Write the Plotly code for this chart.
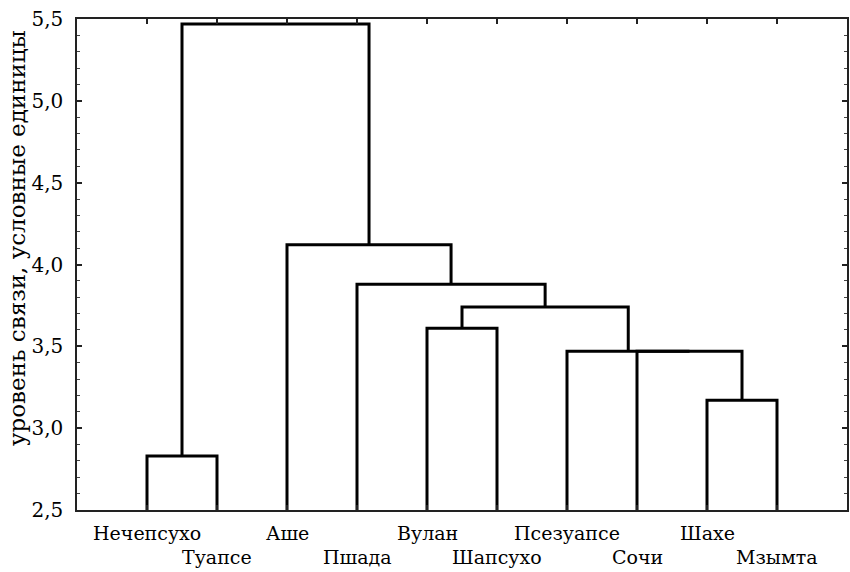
import plotly.graph_objects as go

# Data
leaves = ["Нечепсухо", "Туапсе", "Аше", "Пшада", "Вулан",
          "Шапсухо", "Псезуапсе", "Сочи", "Шахе", "Мзымта"]
# linkage: (left child, right child, height); new clusters get ids 10, 11, ...
merge_left = [0, 8, 7, 6, 4, 14, 3, 2, 10]
merge_right = [1, 9, 11, 12, 5, 13, 15, 16, 17]
merge_height = [2.83, 3.17, 3.47, 3.47, 3.61, 3.74, 3.88, 4.12, 5.47]
y_base = 2.5
y_ticks = [2.5, 3.0, 3.5, 4.0, 4.5, 5.0, 5.5]
y_title = "уровень связи, условные единицы"

# Build dendrogram geometry
pos = {i: (i + 1, y_base) for i in range(len(leaves))}
xs, ys = [], []
for k, (a, b, h) in enumerate(zip(merge_left, merge_right, merge_height)):
    xa, ha = pos[a]
    xb, hb = pos[b]
    xs += [xa, xa, xb, xb, None]
    ys += [ha, h, h, hb, None]
    pos[len(leaves) + k] = ((xa + xb) / 2, h)

leaf_x = [i + 1 for i in range(len(leaves))]

fig = go.Figure()
fig.add_trace(go.Scatter(x=xs, y=ys, mode="lines",
                         line=dict(color="black", width=3),
                         hoverinfo="skip", showlegend=False))

FONT = "DejaVu Serif"
for i, (x, name) in enumerate(zip(leaf_x, leaves)):
    fig.add_annotation(x=x, y=0, xref="x", yref="paper", text=name,
                       showarrow=False, yanchor="middle",
                       yshift=-23 if i % 2 == 0 else -47,
                       font=dict(family=FONT, size=19, color="black"))

# y-axis title (placed slightly above axis centre as in the original)
fig.add_annotation(x=0, y=0.554, xref="paper", yref="paper", text=y_title,
                   textangle=-90, showarrow=False, xanchor="center",
                   yanchor="middle", xshift=-60,
                   font=dict(family=FONT, size=23, color="black"))

fig.update_layout(
    width=850, height=572,
    margin=dict(l=77, r=1, t=19, b=62),
    paper_bgcolor="white", plot_bgcolor="white",
    separators=", ",
    font=dict(family=FONT, size=19, color="black"),
    showlegend=False,
)
fig.update_xaxes(range=[0, 11], tickvals=leaf_x, ticktext=[""] * len(leaves),
                 ticks="inside", ticklen=5, tickwidth=1.5, tickcolor="#222",
                 showline=True, linecolor="#222", linewidth=1.5,
                 mirror="ticks", showgrid=False, zeroline=False)
fig.update_yaxes(range=[2.5, 5.5], tickvals=y_ticks, tickformat=".1f",
                 ticks="inside", ticklen=5, tickwidth=1.5, tickcolor="#222",
                 minor=dict(dtick=0.1, ticks="inside", ticklen=3,
                            tickwidth=1, tickcolor="#444"),
                 showline=True, linecolor="#222", linewidth=1.5,
                 mirror="ticks", showgrid=False, zeroline=False,
                 ticklabelstandoff=8,
                 tickfont=dict(family=FONT, size=20))

fig.write_html("out.html")
